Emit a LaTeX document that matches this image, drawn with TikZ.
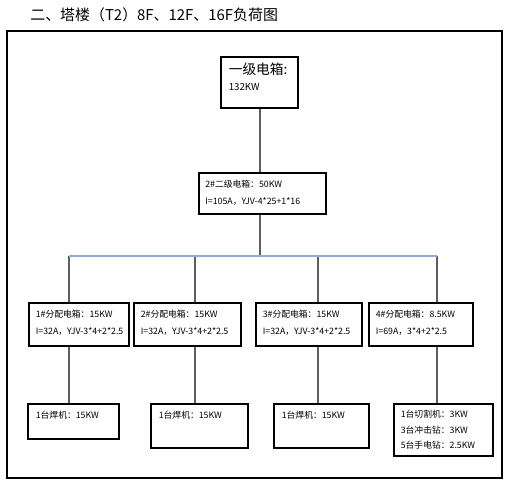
\documentclass[tikz,border=0pt]{standalone}
\usepackage{fontspec}
\setmainfont{Noto Sans CJK SC}
\usetikzlibrary{positioning}
\definecolor{linegray}{RGB}{95,95,95}
\definecolor{busblue}{RGB}{140,175,215}
\tikzset{
    box/.style={draw=black,line width=0.6pt,rectangle,inner sep=0pt},
    txt/.style={anchor=north west,align=left,inner sep=0pt,font=\fontsize{5}{9.5}\selectfont},
    feed/.style={draw=linegray,line width=0.8pt},
    bus/.style={draw=busblue,line width=0.8pt}
}

\begin{document}
\begin{tikzpicture}[x=0.02cm,y=-0.02cm]
    \useasboundingbox (0,0) rectangle (522,500);
    \node[anchor=west,inner sep=0pt,font=\fontsize{8.5}{10}\selectfont] (title) at (30,15) {二、塔楼（T2）8F、12F、16F负荷图};
    \draw[line width=0.6pt] (7,31) rectangle (502,478);

    % boxes
    \node[box,minimum width=15.4mm,minimum height=10.2mm] (main) at (259.5,82.5) {};
    \node[box,minimum width=25.4mm,minimum height=8.2mm] (sec) at (262.5,193.5) {};
    \node[box,minimum width=20mm,minimum height=8.6mm] (d1) at (79,324.5) {};
    \node[box,minimum width=21.4mm,minimum height=8.6mm] (d2) at (187.5,324.5) {};
    \node[box,minimum width=21.2mm,minimum height=8.6mm] (d3) at (309,324.5) {};
    \node[box,minimum width=20.8mm,minimum height=8.6mm] (d4) at (421,324.5) {};
    \node[box,minimum width=18.2mm,minimum height=7mm] (e1) at (73.5,421.5) {};
    \node[box,minimum width=19.4mm,minimum height=8.8mm] (e2) at (199.5,426) {};
    \node[box,minimum width=19mm,minimum height=8.8mm] (e3) at (321.5,426) {};
    \node[box,minimum width=19.8mm,minimum height=10.4mm] (e4) at (443.5,430) {};

    % texts
    \node[txt,font=\fontsize{7.8}{10}\selectfont] (maint) at ([xshift=1.6mm,yshift=-1.2mm]main.north west) {一级电箱:\\[-1pt]{\fontsize{5.5}{7}\selectfont 132KW}};
    \node[txt] (sect) at ([xshift=1.3mm,yshift=-1.5mm]sec.north west) {2\#二级电箱：50KW\\I=105A，YJV-4*25+1*16};
    \node[txt] (d1t) at ([xshift=1.4mm,yshift=-1.5mm]d1.north west) {1\#分配电箱：15KW\\I=32A，YJV-3*4+2*2.5};
    \node[txt] (d2t) at ([xshift=1.4mm,yshift=-1.5mm]d2.north west) {2\#分配电箱：15KW\\I=32A，YJV-3*4+2*2.5};
    \node[txt] (d3t) at ([xshift=1.4mm,yshift=-1.5mm]d3.north west) {3\#分配电箱：15KW\\I=32A，YJV-3*4+2*2.5};
    \node[txt] (d4t) at ([xshift=1.4mm,yshift=-1.5mm]d4.north west) {4\#分配电箱：8.5KW\\I=69A，3*4+2*2.5};
    \node[txt] (e1t) at ([xshift=1.6mm,yshift=-1.4mm]e1.north west) {1台焊机：15KW};
    \node[txt] (e2t) at ([xshift=1.6mm,yshift=-1.4mm]e2.north west) {1台焊机：15KW};
    \node[txt] (e3t) at ([xshift=1.6mm,yshift=-1.4mm]e3.north west) {1台焊机：15KW};
    \node[txt,font=\fontsize{5}{9}\selectfont] (e4t) at ([xshift=1.4mm,yshift=-1.2mm]e4.north west) {1台切割机：3KW\\3台冲击钻：3KW\\5台手电钻：2.5KW};

    % bus
    \coordinate (tap) at (260,256);
    \coordinate (bus1) at (69,256);
    \coordinate (bus2) at (195,256);
    \coordinate (bus3) at (318,256);
    \coordinate (bus4) at (437,256);
    \draw[feed] (main.south -| tap) -- (sec.north -| tap);
    \draw[feed] (sec.south -| tap) -- (tap);
    \foreach \i in {1,...,4} {
        \draw[feed] (bus\i) -- (bus\i |- d\i.north);
        \draw[feed] (bus\i |- d\i.south) -- (bus\i |- e\i.north);
    }
    \draw[bus] (bus1) -- (bus4);
\end{tikzpicture}
\end{document}
